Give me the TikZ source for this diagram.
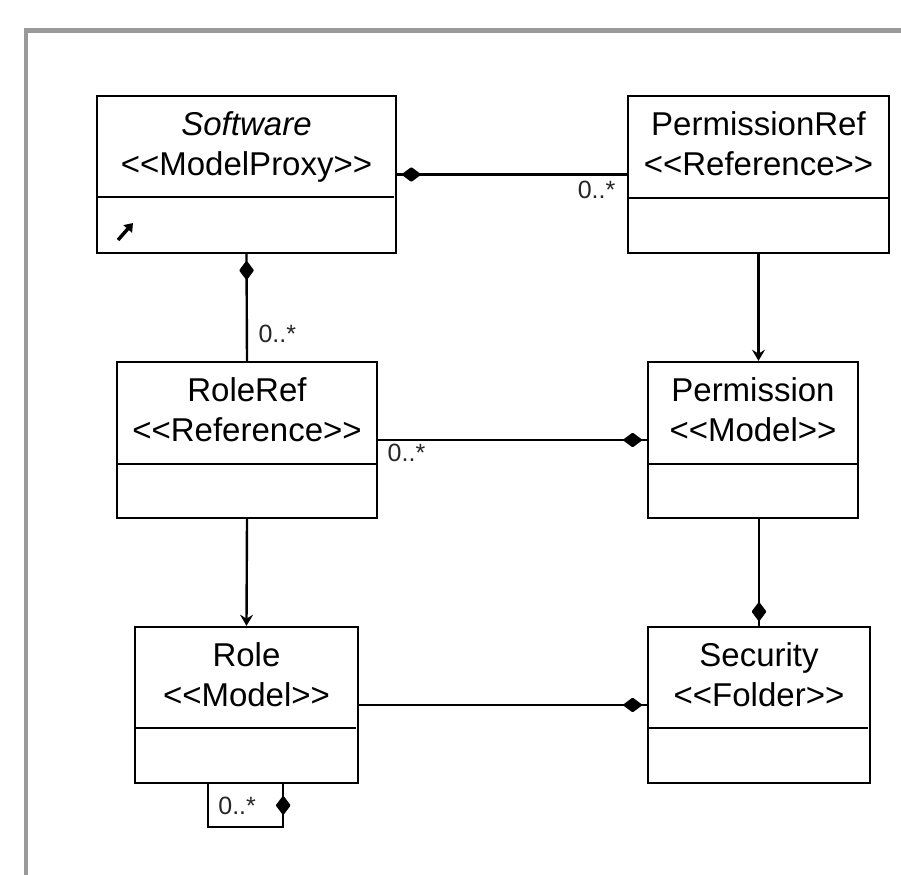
\documentclass[tikz,border=0pt]{standalone}
\usepackage{fontspec}
\setmainfont{Liberation Sans}
\usepackage{tikz}
\usetikzlibrary{arrows.meta,positioning,calc,decorations.markings}

\newcommand{\stereotype}[1]{<\kern0pt<#1>\kern0pt>}

\begin{document}
\begin{tikzpicture}[
    x=1pt,y=-1pt,scale=0.9,
    every node/.append style={transform shape},
    >=Stealth,
    frame/.style={fill=black!40},
    classbox/.style={draw=black, line width=2.35pt, inner sep=0pt, fill=white},
    divider/.style={draw=black, line width=2.35pt},
    assoc/.style={draw=black, line width=2.15pt},
    navarrow/.style={-{Stealth[length=10pt, width=11.7pt, inset=3.6pt]}},
    owner/.style={postaction={decorate}, decoration={markings,
        mark=at position -#1 with {\arrow{Diamond[length=18pt, width=13.5pt, round]}}}},
    classname/.style={anchor=base, font=\fontsize{33}{40}\selectfont, text=black},
    stereo/.style={anchor=base, font=\fontsize{33}{40}\selectfont, text=black},
    mult/.style={font=\fontsize{25}{30}\selectfont, text=black!85}
]
\fill[white] (0,0) rectangle (901,875);
\useasboundingbox (0,0) rectangle (901,875);

% ===== outer frame (open on right and bottom) =====
\fill[frame] (24,28) rectangle (901,33);
\fill[frame] (24,28) rectangle (27.5,875);

% ===== class boxes =====
\node[classbox, minimum width=299pt, minimum height=157pt] (software) at (246.5,174.5) {};
\node[classbox, minimum width=261pt, minimum height=157pt] (permref)  at (758.5,174.5) {};
\node[classbox, minimum width=260pt, minimum height=156pt] (roleref)  at (247,440) {};
\node[classbox, minimum width=210pt, minimum height=156pt] (perm)     at (753,440) {};
\node[classbox, minimum width=223pt, minimum height=156pt] (role)     at (246.5,705) {};
\node[classbox, minimum width=222pt, minimum height=156pt] (security) at (759,705) {};

% compartment dividers
\draw[divider] ($(software.north west)+(0,102)$) -- ($(software.north east)+(-3,102)$);
\draw[divider] ($(permref.north west)+(0,103)$)  -- ($(permref.north east)+(0,103)$);
\draw[divider] ($(roleref.north west)+(0,103)$)  -- ($(roleref.north east)+(0,103)$);
\draw[divider] ($(perm.north west)+(0,103)$)     -- ($(perm.north east)+(0,103)$);
\draw[divider] ($(role.north west)+(0,102)$)     -- ($(role.north east)+(-3,102)$);
\draw[divider] ($(security.north west)+(0,102)$) -- ($(security.north east)+(-3,102)$);

% class names and stereotypes
\node[classname] (softwareName) at ($(software.north)+(0,41)$) {\itshape Software};
\node[stereo] (softwareStereo) at ($(software.north)+(0,81)$) {\stereotype{ModelProxy}};

\node[classname] (permrefName) at ($(permref.north)+(0,41)$) {PermissionRef};
\node[stereo] (permrefStereo) at ($(permref.north)+(0,81)$) {\stereotype{Reference}};

\node[classname] (rolerefName) at ($(roleref.north)+(0,41)$) {RoleRef};
\node[stereo] (rolerefStereo) at ($(roleref.north)+(0,81)$) {\stereotype{Reference}};

\node[classname] (permName) at ($(perm.north)+(0,41)$) {Permission};
\node[stereo] (permStereo) at ($(perm.north)+(0,81)$) {\stereotype{Model}};

\node[classname] (roleName) at ($(role.north)+(0,41)$) {Role};
\node[stereo] (roleStereo) at ($(role.north)+(0,81)$) {\stereotype{Model}};

\node[classname] (securityName) at ($(security.north)+(0,41)$) {Security};
\node[stereo] (securityStereo) at ($(security.north)+(0,81)$) {\stereotype{Folder}};

% proxy icon in the software box
\draw[line width=3.1pt, -{Triangle[length=7.2pt, width=10pt]}] (118,240) -- (133,223);

% ===== associations =====
\draw[assoc, owner=4.5pt] (permref) -- (software);
\draw[assoc, owner=6.3pt] (roleref.north) -- (software.south);
\draw[assoc, owner=4.5pt] (roleref) -- (perm);
\draw[assoc, owner=4.5pt] (role) -- (security);
\draw[assoc, owner=4.5pt] (perm.south -| security.north) -- (security.north);

\draw[assoc, navarrow] (permref.south) -- (permref.south |- perm.north);
\draw[assoc, navarrow] (roleref.south) -- (role.north);

% self association of role
\coordinate (loopA) at ($(role.south west)+(74,0)$);
\coordinate (loopB) at ($(role.south east)+(-76,0)$);
\draw[assoc, owner=10.8pt] (loopA) -- ++(0,43) -| (loopB);

% multiplicities
\node[mult, anchor=base east] (multPermRef) at ($(permref.west)+(-8,24)$) {0..*};
\node[mult, anchor=base west] (multRoleRefUp) at ($(roleref.north)+(8,-18)$) {0..*};
\node[mult, anchor=base west] (multRoleRefRight) at ($(roleref.east)+(6,22)$) {0..*};
\node[mult, anchor=base west] (multRoleLoop) at ($(loopA)+(7,30)$) {0..*};
\end{tikzpicture}
\end{document}
